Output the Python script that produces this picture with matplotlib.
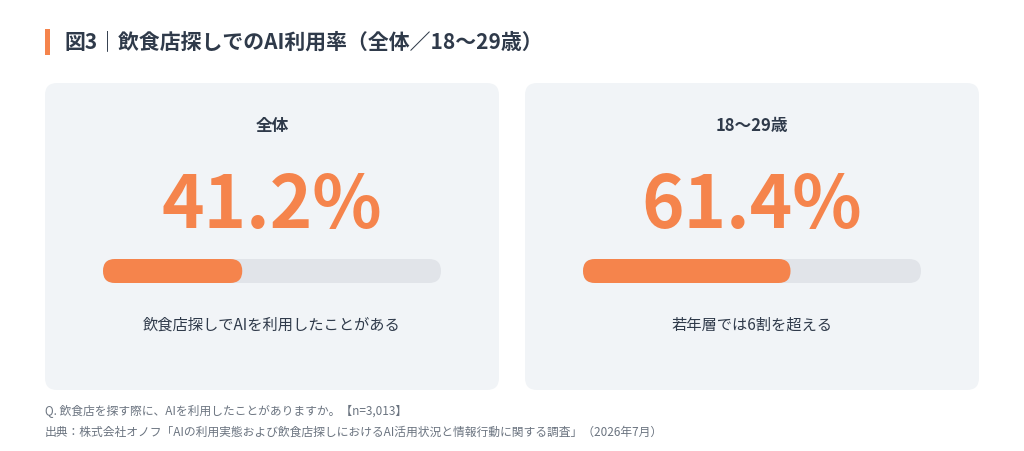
import matplotlib
matplotlib.use("Agg")
import matplotlib.pyplot as plt
from matplotlib.patches import FancyBboxPatch, Rectangle

plt.rcParams['font.family'] = ['Noto Sans CJK JP', 'DejaVu Sans']

# DATA
TITLE = "図3｜飲食店探しでのAI利用率（全体／18〜29歳）"
groups = ["全体", "18〜29歳"]
rates = [41.2, 61.4]
captions = ["飲食店探しでAIを利用したことがある", "若年層では6割を超える"]
notes = ["Q. 飲食店を探す際に、AIを利用したことがありますか。【n=3,013】",
         "出典：株式会社オノフ「AIの利用実態および飲食店探しにおけるAI活用状況と情報行動に関する調査」（2026年7月）"]

ORANGE = "#f5844c"
DARK = "#2f3a4a"
CARD = "#f1f4f7"
TRACK = "#e1e4e9"
GRAY = "#6b7480"

fig = plt.figure(figsize=(10.24, 4.51), dpi=100)
ax = fig.add_axes([0, 0, 1, 1])
ax.set_xlim(0, 1024)
ax.set_ylim(451, 0)
ax.axis("off")

ax.add_patch(Rectangle((45, 29), 5, 26, color=ORANGE, lw=0))
ax.text(64, 42, TITLE, fontsize=15, fontweight="bold", color=DARK, va="center")

card_x = [45, 525]
card_w, track_x0, track_w = 454, 58, 338
for cx, g, r, cap in zip(card_x, groups, rates, captions):
    ax.add_patch(FancyBboxPatch((cx + 12, 83 + 12), card_w - 24, 307 - 24,
                                boxstyle="round,pad=12", fc=CARD, ec="none"))
    mid = cx + card_w / 2
    ax.text(mid, 126, g, fontsize=12, fontweight="bold", color=DARK, ha="center", va="center")
    ax.text(mid, 207, f"{r:.1f}%", fontsize=52, fontweight="bold", color=ORANGE,
            ha="center", va="center")
    tx = cx + track_x0
    ax.add_patch(FancyBboxPatch((tx + 12, 259), track_w - 24, 24,
                                boxstyle="round,pad=0,rounding_size=12", fc=TRACK, ec="none",
                                mutation_aspect=1))
    ax.add_patch(Rectangle((tx + 12, 259), track_w - 24, 24, fc=TRACK, ec="none"))
    ax.add_patch(FancyBboxPatch((tx, 259), 0, 24, boxstyle="round,pad=0", fc="none", ec="none"))
    # rounded ends via circles-like bars
    fw = track_w * r / 100
    ax.add_patch(FancyBboxPatch((tx + 12, 259 + 12), track_w - 24, 0,
                                boxstyle="round,pad=12", fc=TRACK, ec="none"))
    ax.add_patch(FancyBboxPatch((tx + 12, 259 + 12), fw - 24, 0,
                                boxstyle="round,pad=12", fc=ORANGE, ec="none"))
    ax.text(mid, 325, cap, fontsize=11, color=DARK, ha="center", va="center")

ax.text(45, 412, notes[0], fontsize=8.5, color=GRAY, va="center")
ax.text(45, 432, notes[1], fontsize=8.5, color=GRAY, va="center")

fig.savefig("out.png", dpi=100, facecolor="white")
